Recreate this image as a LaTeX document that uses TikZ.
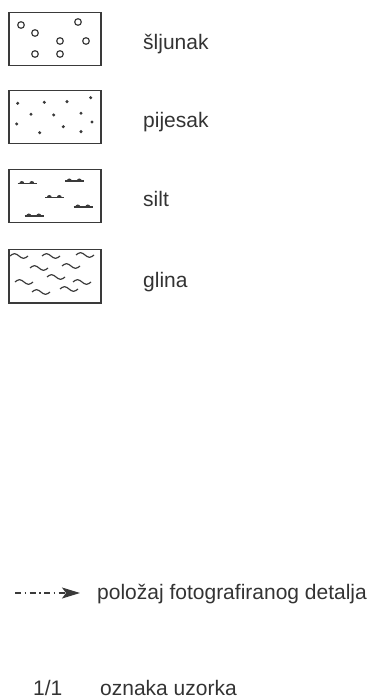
\documentclass[tikz,border=0pt]{standalone}
\usepackage{fontspec}
\setmainfont{Liberation Sans}
\usetikzlibrary{arrows.meta}
\definecolor{ink}{HTML}{3A3A3A}
\definecolor{txt}{HTML}{333333}
\tikzset{
  legbox/.style={draw=ink, line width=1.5pt, rectangle, minimum width=92pt, minimum height=53pt, inner sep=0pt, anchor=north west},
  legtext/.style={text=txt, font=\fontsize{21}{24}\selectfont, inner sep=0pt, anchor=base west},
  gravel/.style={draw=ink, line width=1.2pt},
  sanddot/.style={fill=ink},
  pics/siltmark/.style={code={
    \draw[ink, line width=1.1pt] (0,0) -- (19,0);
    \fill[ink] (1.8,0) arc[start angle=180, end angle=360, radius=2.5] -- cycle;
    \fill[ink] (11.8,0) arc[start angle=180, end angle=360, radius=2.5] -- cycle;
  }},
  pics/claymark/.style={code={
    \draw[ink, line width=1.2pt] (0,0) sin (4.5,-2.3) cos (9,0) sin (13.5,2.3) cos (18,0);
  }},
}
\begin{document}
\begin{tikzpicture}[x=1pt, y=-1pt]
\useasboundingbox (0,0) rectangle (376,700);
% boxes
\node[legbox] (b1) at (8,12) {};
\node[legbox] (b2) at (8,90) {};
\node[legbox] (b3) at (8,169) {};
\node[legbox] (b4) at (8,249) {};
% labels
\node[legtext] (l1) at (143,50) {šljunak};
\node[legtext] (l2) at (143,128) {pijesak};
\node[legtext] (l3) at (143,207) {silt};
\node[legtext] (l4) at (143,287) {glina};
% gravel
\foreach \x/\y in {21/25, 78/22, 35/33, 60/41, 86/41, 35/54, 60/54}
  \draw[gravel] (\x,\y) circle[radius=3.3];
% sand
\foreach \x/\y in {17.7/103.3, 44.3/102.3, 67/101.7, 90.7/97.7, 31/114.3, 53.7/115, 81/113.3, 16.7/124, 92/122, 63.3/126.7, 39.7/132.7, 81/131.7}
  \fill[sanddot] (\x,\y) circle[radius=1.7];
% silt
\foreach \x/\y in {17.5/183.5, 65/181, 45/197.5, 73.5/207, 24.5/216}
  \pic at (\x,\y) {siltmark};
% clay
\foreach \x/\y in {10/256, 42/256, 76/255, 30/268, 62/266, 47/277, 15/282, 73/282, 32/292, 60/289}
  \pic at (\x,\y) {claymark};
% arrow legend
\coordinate (a0) at (15,593);
\coordinate (a1) at (80,593);
\draw[ink, line width=1.4pt, dash pattern=on 6pt off 3.5pt on 1.5pt off 3.5pt,
  -{Stealth[length=18pt, width=11pt, inset=4pt]}] (a0) -- (a1);
\node[legtext] (l5) at (97,599) {položaj fotografiranog detalja};
% sample label
\node[legtext] (l6) at (33,695) {1/1};
\node[legtext] (l7) at (100,695) {oznaka uzorka};
\end{tikzpicture}
\end{document}
